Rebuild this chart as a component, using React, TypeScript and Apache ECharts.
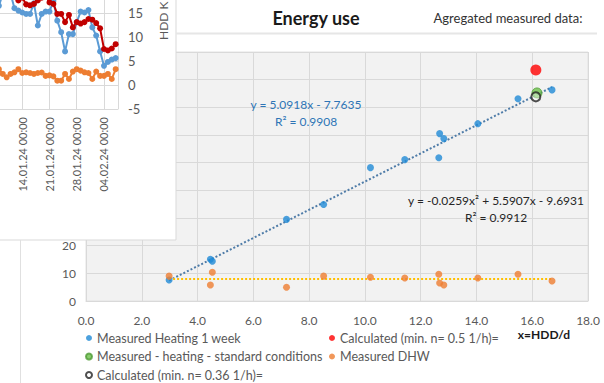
import React, { useEffect, useRef } from "react";
import * as echarts from "echarts";

// ---- Main chart data (weekly aggregates) ----
const weekHdd = [2.98, 4.46, 4.53, 7.19, 8.52, 10.2, 11.43, 12.65, 12.68, 12.83, 14.05, 15.49, 16.71];
const heatingWeek = [7.6, 15.1, 14.4, 29.5, 34.9, 48.2, 51.1, 51.8, 60.5, 58.7, 64.1, 73.1, 76.3];
const dhwWeek = [9.0, 5.8, 10.4, 5.0, 9.0, 8.6, 8.3, 9.7, 6.5, 5.8, 8.3, 9.7, 7.2];
const calc05Point = [16.13, 83.5];
const standardHeatingPoint = [16.17, 75.2];
const calc036Point = [16.13, 73.8];
const linearCoeffs = [5.0918, -7.7635];

const seriesNames = [
  "Measured Heating 1 week",
  "Calculated (min. n= 0.5 1/h)=",
  "Measured - heating - standard conditions",
  "Measured DHW",
  "Calculated (min. n= 0.36 1/h)=",
];

// ---- Overlay chart data (daily, day numbers counted from 31.12.2023) ----
const days = [8, 9, 10, 11, 12, 13, 14, 15, 16, 17, 18, 19, 20, 21, 22, 23, 24, 25, 26, 27, 28, 29, 30, 31, 32, 33, 34, 35, 36, 37, 38];
const dailyBlue = [16.5, 19.0, 19.5, 19.0, 16.0, 15.5, 15.1, 14.8, 14.8, 17.0, 12.4, 14.8, 15.3, 15.3, 17.5, 13.4, 11.0, 7.0, 10.6, 10.6, 13.1, 15.3, 15.1, 15.6, 12.0, 10.3, 7.0, 4.0, 4.8, 5.3, 5.6];
const dailyRed = [20.0, 20.5, 19.5, 19.0, 18.5, 17.6, 18.2, 16.8, 16.6, 16.9, 17.6, 18.2, 18.5, 17.2, 16.9, 14.8, 14.8, 13.1, 14.6, 12.0, 13.1, 12.8, 13.1, 13.75, 13.6, 12.9, 11.8, 7.5, 7.2, 7.6, 8.5];
const dailyOrange = [3.3, 2.3, 1.6, 2.3, 2.65, 3.3, 2.5, 2.65, 2.5, 2.3, 2.5, 2.6, 1.9, 2.0, 1.8, 0.9, 0.9, 2.3, 1.25, 2.8, 3.3, 3.0, 2.65, 2.5, 1.25, 2.8, 1.9, 1.9, 2.3, 1.25, 3.3];

const FONT = "Lato, 'Open Sans', sans-serif";
const GRAY = "#595959";
const GRID = "#d9d9d9";

function pad(n: number) {
  return n < 10 ? "0" + n : String(n);
}
function dayLabel(d: number) {
  const dt = new Date(2023, 11, 31 + d);
  return pad(dt.getDate()) + "." + pad(dt.getMonth() + 1) + "." + String(dt.getFullYear()).slice(2) + " 00:00";
}

export default function App() {
  const ref = useRef<HTMLDivElement>(null);
  useEffect(() => {
    if (!ref.current) return;
    const chart = echarts.init(ref.current, undefined, { renderer: "svg" });

    const xMin = Math.min(...weekHdd);
    const xMax = Math.max(...weekHdd);
    const linTrend = [
      [xMin, linearCoeffs[0] * xMin + linearCoeffs[1]],
      [xMax, linearCoeffs[0] * xMax + linearCoeffs[1]],
    ];
    // least-squares trend of DHW
    const n = weekHdd.length;
    const mx = weekHdd.reduce((a, b) => a + b, 0) / n;
    const my = dhwWeek.reduce((a, b) => a + b, 0) / n;
    let sxy = 0, sxx = 0;
    for (let i = 0; i < n; i++) {
      sxy += (weekHdd[i] - mx) * (dhwWeek[i] - my);
      sxx += (weekHdd[i] - mx) * (weekHdd[i] - mx);
    }
    const slope = sxy / sxx;
    const icpt = my - slope * mx;
    const dhwTrend = [
      [xMin, slope * xMin + icpt],
      [xMax, slope * xMax + icpt],
    ];

    const legendText = { color: GRAY, fontSize: 12.5, fontFamily: FONT, lineHeight: 14 };

    const option: any = {
      animation: false,
      textStyle: { fontFamily: FONT },
      grid: [
        { left: 86, right: 16, top: 52, bottom: 82, show: true, backgroundColor: "#f2f2f2", borderColor: "#e3e3e3", borderWidth: 1, outerBoundsMode: "none", containLabel: false },
        { left: -5, right: 486, top: -35, bottom: 274, show: false, z: 20, outerBoundsMode: "none", containLabel: false },
      ],
      xAxis: [
        {
          gridIndex: 0, type: "value", min: 0, max: 18, interval: 2,
          axisLine: { show: true, lineStyle: { color: GRID } },
          axisTick: { show: false },
          axisLabel: { color: GRAY, fontSize: 12, fontFamily: FONT, margin: 13, formatter: (v: number) => v.toFixed(1) },
          splitLine: { show: true, lineStyle: { color: GRID } },
        },
        {
          gridIndex: 1, type: "value", min: 7, max: 38.6, interval: 7, z: 20,
          axisLine: { show: true, onZero: true, lineStyle: { color: GRID } },
          axisTick: { show: false },
          axisLabel: { color: GRAY, fontSize: 11, fontFamily: FONT, rotate: 90, margin: 8, showMinLabel: false, showMaxLabel: false, formatter: (v: number) => dayLabel(v) },
          splitLine: { show: true, lineStyle: { color: GRID } },
        },
      ],
      yAxis: [
        {
          gridIndex: 0, type: "value", min: 0, max: 90, interval: 10,
          axisLine: { show: true, lineStyle: { color: GRID } },
          axisTick: { show: false },
          axisLabel: { color: GRAY, fontSize: 12, fontFamily: FONT, margin: 10 },
          splitLine: { show: true, lineStyle: { color: GRID } },
        },
        {
          gridIndex: 1, type: "value", position: "right", min: -5, max: 25, interval: 5, z: 20,
          axisLine: { show: true, lineStyle: { color: GRID } },
          axisTick: { show: false },
          axisLabel: { color: GRAY, fontSize: 13, fontFamily: FONT, margin: 10, formatter: (v: number) => (v > 15 ? "" : String(v)) },
          splitLine: { show: true, lineStyle: { color: GRID } },
        },
      ],
      legend: [
        {
          orient: "vertical", left: 85, top: 331, height: 60, padding: 0, itemWidth: 6, itemHeight: 6, itemGap: 4.5, icon: "circle",
          textStyle: legendText,
          data: [seriesNames[0], seriesNames[2], seriesNames[4]],
        },
        {
          orient: "vertical", left: 329, top: 331, height: 60, padding: 0, itemWidth: 6, itemHeight: 6, itemGap: 4.5, icon: "circle",
          textStyle: legendText,
          data: [seriesNames[1], seriesNames[3]],
        },
      ],
      graphic: {
        elements: [
          { type: "rect", z: 10, shape: { x: -1, y: -1, width: 177, height: 241 }, style: { fill: "#ffffff", stroke: GRID, lineWidth: 1 } },
          { type: "line", z: 10, shape: { x1: 20.5, y1: 240, x2: 20.5, y2: 383 }, style: { stroke: "#e0e0e0", lineWidth: 1 } },
          { type: "line", z: 10, shape: { x1: 176, y1: 33.5, x2: 597, y2: 33.5 }, style: { stroke: "#e6e6e6", lineWidth: 2 } },
          { type: "text", z: 30, x: 316, y: 18, style: { text: "Energy use", fill: "#1a1a1a", fontSize: 18, fontWeight: "bold", fontFamily: FONT, textAlign: "center", textVerticalAlign: "middle" } },
          { type: "text", z: 30, x: 508, y: 18, style: { text: "Agregated measured data:", fill: "#333333", fontSize: 13, fontFamily: FONT, textAlign: "center", textVerticalAlign: "middle" } },
          { type: "text", z: 30, x: 306, y: 104, style: { text: "y = 5.0918x - 7.7635", fill: "#2e75b6", fontSize: 12, fontFamily: FONT, textAlign: "center", textVerticalAlign: "middle" } },
          { type: "text", z: 30, x: 306, y: 121, style: { text: "R² = 0.9908", fill: "#2e75b6", fontSize: 12, fontFamily: FONT, textAlign: "center", textVerticalAlign: "middle" } },
          { type: "text", z: 30, x: 496, y: 200, style: { text: "y = -0.0259x² + 5.5907x - 9.6931", fill: "#262626", fontSize: 12, fontFamily: FONT, textAlign: "center", textVerticalAlign: "middle" } },
          { type: "text", z: 30, x: 496, y: 217, style: { text: "R² = 0.9912", fill: "#262626", fontSize: 12, fontFamily: FONT, textAlign: "center", textVerticalAlign: "middle" } },
          { type: "text", z: 30, x: 544, y: 334, style: { text: "x=HDD/d", fill: "#1a1a1a", fontSize: 12, fontWeight: "bold", fontFamily: FONT, textAlign: "center", textVerticalAlign: "middle" } },
          { type: "text", z: 30, x: 163, y: 40, rotation: Math.PI / 2, style: { text: "HDD K", fill: GRAY, fontSize: 12, fontFamily: FONT, textAlign: "left", textVerticalAlign: "middle" } },
        ],
      },
      series: [
        {
          name: "linTrend", type: "line", xAxisIndex: 0, yAxisIndex: 0, data: linTrend, showSymbol: false, silent: true, z: 3,
          lineStyle: { color: "#4f7ca8", width: 2, type: [2, 2] },
        },
        {
          name: "dhwTrend", type: "line", xAxisIndex: 0, yAxisIndex: 0, data: dhwTrend, showSymbol: false, silent: true, z: 3,
          lineStyle: { color: "#ffc000", width: 2, type: [2, 2] },
        },
        {
          name: seriesNames[0], type: "scatter", xAxisIndex: 0, yAxisIndex: 0, symbolSize: 7, z: 4,
          itemStyle: { color: "#1f8ad6" },
          data: weekHdd.map((x, i) => [x, heatingWeek[i]]),
        },
        {
          name: seriesNames[3], type: "scatter", xAxisIndex: 0, yAxisIndex: 0, symbolSize: 7, z: 4,
          itemStyle: { color: "#ed7d31" },
          data: weekHdd.map((x, i) => [x, dhwWeek[i]]),
        },
        {
          name: seriesNames[1], type: "scatter", xAxisIndex: 0, yAxisIndex: 0, symbolSize: 11, z: 4,
          itemStyle: { color: "#ff0000" },
          data: [calc05Point],
        },
        {
          name: seriesNames[2], type: "scatter", xAxisIndex: 0, yAxisIndex: 0, symbolSize: 10, z: 4,
          itemStyle: { color: "#6cc04a", borderColor: "#4e9a33", borderWidth: 1 },
          data: [standardHeatingPoint],
        },
        {
          name: seriesNames[4], type: "scatter", xAxisIndex: 0, yAxisIndex: 0, symbolSize: 9, z: 5,
          itemStyle: { color: "rgba(255,255,255,0.5)", borderColor: "#222222", borderWidth: 2 },
          data: [calc036Point],
        },
        {
          name: "dailyBlue", type: "line", xAxisIndex: 1, yAxisIndex: 1, z: 21, symbol: "circle", symbolSize: 6,
          itemStyle: { color: "#5b9bd5" }, lineStyle: { color: "#5b9bd5", width: 2 },
          data: days.map((d, i) => [d, dailyBlue[i]]),
        },
        {
          name: "dailyRed", type: "line", xAxisIndex: 1, yAxisIndex: 1, z: 21, symbol: "circle", symbolSize: 6,
          itemStyle: { color: "#c00000" }, lineStyle: { color: "#c00000", width: 2 },
          data: days.map((d, i) => [d, dailyRed[i]]),
        },
        {
          name: "dailyOrange", type: "line", xAxisIndex: 1, yAxisIndex: 1, z: 21, symbol: "circle", symbolSize: 6,
          itemStyle: { color: "#ed7d31" }, lineStyle: { color: "#ed7d31", width: 2 },
          data: days.map((d, i) => [d, dailyOrange[i]]),
        },
      ],
    };
    chart.setOption(option);
    return () => chart.dispose();
  }, []);

  return (
    <div
      ref={ref}
      style={{ position: "fixed", left: 0, top: 0, width: 604, height: 383, background: "#ffffff" }}
    />
  );
}
